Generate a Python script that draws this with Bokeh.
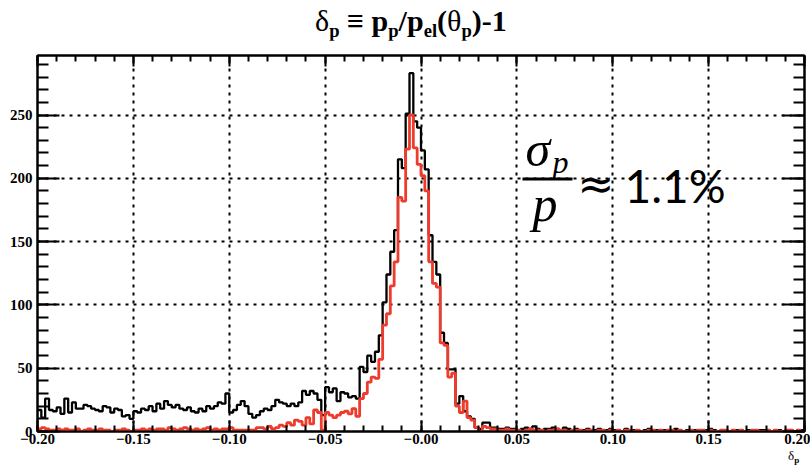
import numpy as np
from bokeh.plotting import figure
from bokeh.layouts import column
from bokeh.models import Label, FixedTicker, LinearAxis, Range1d, BoxAnnotation, Div
from bokeh.embed import file_html
from bokeh.resources import INLINE

# ---------------- data ----------------
bin_low = -0.20
bin_width = 0.002
n_bins = 200

black_counts = [
    17, 11, 26, 17, 16, 19, 14, 26, 15, 23, 18, 18, 21, 20, 18, 17, 16, 20, 19, 15,
    18, 17, 12, 13, 10, 16, 15, 18, 17, 20, 16, 22, 18, 24, 21, 19, 21, 18, 17, 19,
    16, 15, 18, 16, 20, 18, 20, 23, 22,
    30, 15, 17, 21, 24, 20, 14, 11, 13, 16, 18, 17, 20, 25, 23, 22, 20, 22, 20, 23,
    32, 29, 32, 30, 25, 13, 35, 31, 34, 24, 31, 30, 27, 28, 26,
    51, 47, 60, 55, 63, 76, 102, 124, 142, 159, 215, 208, 251, 283, 245,
    240, 222, 207, 155, 134, 124, 78, 70, 49, 49, 22, 28, 16, 12, 10,
    3, 2, 7, 7, 3, 3, 2, 2, 3, 2, 2, 1, 2, 3, 2, 4,
    2, 1, 2, 2, 3, 2, 1, 3, 2, 1, 2, 1, 1, 2, 1, 1, 2, 1, 1, 2,
    1, 1, 0, 2, 1, 1, 1, 0, 1, 2, 1, 1, 0, 1, 1, 1, 2, 1, 0, 1,
    1, 1, 0, 1, 1, 2, 1, 0, 1, 1, 0, 1, 1, 1, 0, 1, 1, 0, 1, 1,
    1, 0, 1, 1, 0, 1, 1, 0, 1, 1,
]

red_counts = [
    2, 3, 2, 1, 1, 2, 1, 2, 1, 1, 2, 0, 1, 2, 1, 1, 2, 1, 1, 0,
    1, 1, 2, 1, 0, 1, 1, 2, 1, 2, 1, 2, 2, 1, 3, 2, 1, 2, 3, 2,
    1, 2, 1, 2, 3, 1, 2, 1, 2,
    2, 3, 1, 1, 1, 1, 1, 1, 3, 3, 2, 4, 2, 3, 5, 4, 7, 5, 9, 8,
    5, 11, 6, 17, 15, 1, 15, 13, 11, 13, 15, 16, 14, 18, 12,
    26, 30, 39, 43, 42, 57, 84, 93, 115, 134, 185, 182, 223, 250, 224,
    211, 202, 190, 134, 117, 114, 70, 68, 43, 46, 20, 15, 24, 11, 9,
    3, 0, 4, 3, 2, 2, 1, 1, 2, 1, 1, 1, 0, 1, 2, 1,
    1, 1, 0, 1, 1, 2, 1, 1, 0, 1, 1, 1, 0, 1, 1, 0, 1, 1, 0, 1,
    0, 1, 0, 1, 1, 0, 1, 0, 0, 1, 1, 0, 1, 0, 1, 1, 0, 1, 0, 0,
    1, 0, 1, 1, 0, 1, 0, 0, 1, 1, 0, 1, 0, 1, 0, 0, 1, 1, 0, 0,
    1, 0, 1, 0, 0, 1, 1, 0, 1, 0,
]

x_ticks = [-0.20, -0.15, -0.10, -0.05, 0.0, 0.05, 0.10, 0.15, 0.20]
x_tick_labels = ["\u22120.20", "\u22120.15", "\u22120.10", "\u22120.05", "\u22120.00",
                 "0.05", "0.10", "0.15", "0.20"]
y_ticks = [0, 50, 100, 150, 200, 250]
y_max = 297

# ---------------- layout (page pixels) ----------------
PAGE_W = 810
TITLE_H = 40
FIG_TOP = TITLE_H
FIG_H = 410
BOT_H = 16
FL, FR, FT, FB = 37, 804, 55, 431   # frame edges on the page

FONT = "Liberation Serif"

edges = bin_low + bin_width * np.arange(n_bins + 1)

p = figure(width=PAGE_W, height=FIG_H, output_backend="svg", toolbar_location=None,
           x_range=Range1d(-0.2, 0.2), y_range=Range1d(0, y_max),
           min_border_left=FL, min_border_right=PAGE_W - FR,
           min_border_top=FT - FIG_TOP, min_border_bottom=FIG_TOP + FIG_H - FB,
           x_axis_location=None, y_axis_location=None, margin=0)
p.background_fill_color = "white"
p.border_fill_color = "white"
p.outline_line_color = "black"
p.outline_line_width = 2

x_minor = [round(-0.2 + 0.01 * i, 3) for i in range(41)]
y_minor = list(range(0, 300, 10))
xt = FixedTicker(ticks=x_ticks, minor_ticks=x_minor)
yt = FixedTicker(ticks=y_ticks, minor_ticks=y_minor)


def style_axis(ax, tin, mtin, show):
    ax.axis_line_color = "black"
    ax.axis_line_width = 2
    ax.major_tick_line_width = 2
    ax.minor_tick_line_width = 2
    ax.major_tick_in = tin
    ax.major_tick_out = 0
    ax.minor_tick_in = mtin
    ax.minor_tick_out = 0
    ax.major_label_text_font = FONT
    ax.major_label_text_font_style = "bold"
    ax.major_label_text_color = "black"
    if show:
        ax.major_label_text_font_size = "15px"
    else:
        ax.major_label_text_font_size = "1px"
        ax.major_label_text_alpha = 0
        ax.major_label_standoff = 0


bottom = LinearAxis(ticker=xt)
bottom.major_label_overrides = {t: s for t, s in zip(x_ticks, x_tick_labels)}
style_axis(bottom, 11, 6, True)
bottom.major_label_standoff = 2
p.add_layout(bottom, "below")

left = LinearAxis(ticker=yt)
style_axis(left, 22, 11, True)
left.major_label_standoff = 5
p.add_layout(left, "left")

top = LinearAxis(ticker=xt)
style_axis(top, 11, 6, False)
p.add_layout(top, "above")

right = LinearAxis(ticker=yt)
style_axis(right, 22, 11, False)
p.add_layout(right, "right")

p.xgrid.ticker = FixedTicker(ticks=x_ticks)
p.ygrid.ticker = FixedTicker(ticks=y_ticks)
for g in (p.xgrid, p.ygrid):
    g.grid_line_color = "black"
    g.grid_line_width = 2
    g.grid_line_dash = "3 5"

# histograms
black_y = list(black_counts) + [black_counts[-1]]
red_y = list(red_counts) + [red_counts[-1]]
p.step(edges, black_y, mode="after", line_color="black", line_width=2.3)
p.step(edges, red_y, mode="after", line_color="#ee3b2c", line_width=2.8)

# ---------------- in-frame annotation ----------------
XS = 0.4 / (FR - FL)
YS = y_max / (FB - FT)

# (ascent - descent)/2 per font, used to place a text by its baseline
MID = {FONT: 0.3375, "Lato": 0.387, "DejaVu Sans": 0.346}


def dx(page_x):
    return -0.2 + (page_x - FL) * XS


def dy(page_y):
    return (FB - page_y) * YS


def lab(text, px, baseline, size, style="normal", font=FONT, color="black"):
    py = baseline - MID[font] * size
    p.add_layout(Label(x=dx(px), y=dy(py), text=text, text_font=font,
                       text_font_size=f"{size}px", text_font_style=style,
                       text_color=color, text_align="left",
                       text_baseline="alphabetic"))


# sigma_p / p  ≈ 1.1%
lab("\u03c3", 525, 165, 50, "italic")
lab("p", 552, 172, 32, "italic")
p.add_layout(BoxAnnotation(left=dx(522), right=dx(572), bottom=dy(180), top=dy(177),
                           fill_color="black", fill_alpha=1, line_color=None))
lab("p", 532, 220, 50, "italic")
lab("\u2248", 577, 198, 44, "normal", font="DejaVu Sans")
lab("1.1%", 624, 203, 46, "normal", font="Lato")

# ---------------- title and x-axis title ----------------
SUB = "font-size:0.62em; vertical-align:-0.33em; line-height:0;"
title_html = (
    f'<div style="position:relative; width:{PAGE_W}px; height:{TITLE_H}px;">'
    f'<span style="position:absolute; left:315px; top:6px; white-space:nowrap; '
    f'font-family:\'{FONT}\'; font-size:30px; line-height:29px; font-weight:bold; color:black;">'
    f'<span style="font-weight:normal">\u03b4</span><sub style="{SUB}">p</sub>'
    f' \u2261 p<sub style="{SUB}">p</sub>/p<sub style="{SUB}">el</sub>'
    f'(<span style="font-weight:normal">\u03b8</span><sub style="{SUB}">p</sub>)-1'
    f'</span></div>'
)
title_div = Div(text=title_html, width=PAGE_W, height=TITLE_H, margin=0)

xlabel_html = (
    f'<div style="position:relative; width:{PAGE_W}px; height:{BOT_H}px;">'
    f'<span style="position:absolute; left:788px; top:0px; white-space:nowrap; '
    f'font-family:\'{FONT}\'; font-size:13px; line-height:12px; color:black;">'
    f'\u03b4<sub style="font-size:0.7em; vertical-align:-0.3em; line-height:0; font-weight:bold;">p</sub>'
    f'</span></div>'
)
xlabel_div = Div(text=xlabel_html, width=PAGE_W, height=BOT_H, margin=0)

layout = column(title_div, p, xlabel_div, spacing=0)

open("out.html", "w").write(file_html(layout, INLINE))
